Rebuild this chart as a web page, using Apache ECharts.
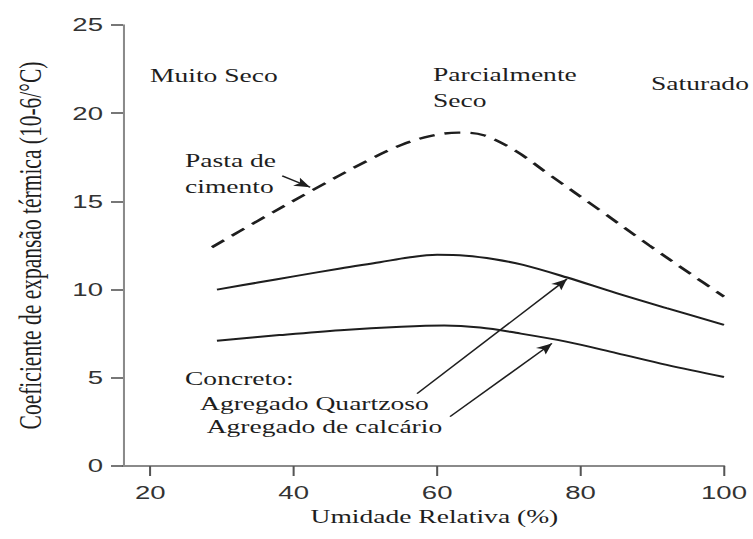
<!DOCTYPE html>
<html>
<head>
<meta charset="utf-8">
<script src="https://cdn.jsdelivr.net/npm/echarts@6/dist/echarts.min.js"></script>
<style>
html,body{margin:0;padding:0;background:#fff;overflow:hidden;}
</style>
</head>
<body>
<div id="c"></div>
<script>
// ---- data ----
const xTicks = [20, 40, 60, 80, 100];
const yTicks = [0, 5, 10, 15, 20, 25];

const pastaX = [28.6, 35, 42.7, 50, 55, 59, 63, 66.5, 71, 75.7, 82.7, 89.6, 95.3, 100];
const pastaY = [12.4, 13.9, 15.65, 17.25, 18.2, 18.7, 18.9, 18.75, 17.85, 16.5, 14.5, 12.5, 10.9, 9.6];

const quartzX = [29.3, 35, 40, 46.5, 52, 56, 60, 64, 68, 72, 78, 85, 92, 100];
const quartzY = [10.0, 10.4, 10.75, 11.2, 11.55, 11.82, 11.97, 11.92, 11.72, 11.4, 10.7, 9.8, 8.95, 8.0];

const calcX = [29.3, 38, 46.5, 55, 61, 66, 71, 78, 85, 92, 100];
const calcY = [7.1, 7.42, 7.7, 7.9, 7.97, 7.85, 7.55, 7.05, 6.4, 5.73, 5.05];

const arrowFrom = [[38.4, 16.45], [57.2, 4.1], [61.8, 2.8]];
const arrowTo   = [[42.3, 15.8], [78.1, 10.6], [76.0, 6.95]];

const xName = 'Umidade Relativa (%)';
const yName = 'Coeficiente de expansão térmica (10-6/°C)';
const regionLabels = ['Muito Seco', 'Parcialmente\nSeco', 'Saturado'];
const pastaLabel = 'Pasta de\ncimento';
const concreteLabels = ['Concreto:', 'Agregado Quartzoso', 'Agregado de calcário'];

// ---- layout (reference image is horizontally stretched) ----
const S = 1.45;
const H = 539;
const W = 753 / S;
const dom = document.getElementById('c');
dom.style.width = W + 'px';
dom.style.height = H + 'px';
dom.style.transform = 'scaleX(' + S + ')';
dom.style.transformOrigin = '0 0';

const pair = (xs, ys) => xs.map((x, i) => [x, ys[i]]);
const sx = v => v / S;

const SERIF = '"Liberation Serif", "Times New Roman", serif';
const SANS = '"Liberation Sans", Arial, sans-serif';
const INK = '#1e1e1e';
const AXIS = '#8a8a8a';

function arrow(i) {
  return {
    silent: true,
    animation: false,
    symbol: ['none', 'arrow'],
    symbolSize: [7, 11],
    label: {show: false},
    itemStyle: {color: INK},
    lineStyle: {color: INK, width: 1.3, type: 'solid'},
    data: [[{coord: arrowFrom[i]}, {coord: arrowTo[i]}]]
  };
}

function txt(text, xs, yc) {
  return {
    type: 'text', x: sx(xs), y: yc, z: 100,
    style: {text: text, fill: INK, font: '19px ' + SERIF, verticalAlign: 'middle', align: 'left', lineHeight: 26}
  };
}

const chart = echarts.init(dom, null, {renderer: 'svg', width: W, height: H});
chart.setOption({
  animation: false,
  backgroundColor: '#fff',
  grid: {left: sx(123), right: W - sx(724), top: 25, bottom: 73, containLabel: false, outerBoundsMode: 'none'},
  xAxis: {
    type: 'value', min: 16.2, max: 100,
    splitLine: {show: false},
    axisLine: {show: true, lineStyle: {color: AXIS, width: 1.8}},
    axisTick: {show: true, customValues: xTicks, length: 10, lineStyle: {color: '#555', width: 1.4}},
    axisLabel: {customValues: xTicks, margin: 17, fontFamily: SANS, fontSize: 19, color: '#333'},
    name: xName, nameLocation: 'middle', nameGap: 37,
    nameTextStyle: {fontFamily: SERIF, fontSize: 19, color: INK, padding: [0, 0, 0, 15]}
  },
  yAxis: {
    type: 'value', min: 0, max: 25, interval: 5,
    splitLine: {show: false},
    axisLine: {show: true, lineStyle: {color: AXIS, width: 1.4}},
    axisTick: {show: true, length: 8.3, lineStyle: {color: '#555', width: 1.6}},
    axisLabel: {margin: 13.8, fontFamily: SANS, fontSize: 19, color: '#333'},
    name: yName, nameLocation: 'middle', nameGap: 53,
    nameTextStyle: {fontFamily: SERIF, fontSize: 21.5, color: INK}
  },
  series: [
    {
      name: 'Pasta de cimento', type: 'line', data: pair(pastaX, pastaY),
      smooth: 0.35, showSymbol: false, silent: true,
      lineStyle: {color: INK, width: 2.4, type: [11, 7]},
      markLine: arrow(0)
    },
    {
      name: 'Agregado Quartzoso', type: 'line', data: pair(quartzX, quartzY),
      smooth: 0.35, showSymbol: false, silent: true,
      lineStyle: {color: INK, width: 2},
      markLine: arrow(1)
    },
    {
      name: 'Agregado de calcário', type: 'line', data: pair(calcX, calcY),
      smooth: 0.35, showSymbol: false, silent: true,
      lineStyle: {color: INK, width: 2},
      markLine: arrow(2)
    }
  ],
  graphic: [
    txt(regionLabels[0], 150, 76),
    txt(regionLabels[1], 433, 87.5),
    txt(regionLabels[2], 651, 84),
    txt(pastaLabel, 185, 174),
    txt(concreteLabels[0], 185, 379),
    txt(concreteLabels[1], 200, 404),
    txt(concreteLabels[2], 206.7, 427)
  ]
});
</script>
</body>
</html>
